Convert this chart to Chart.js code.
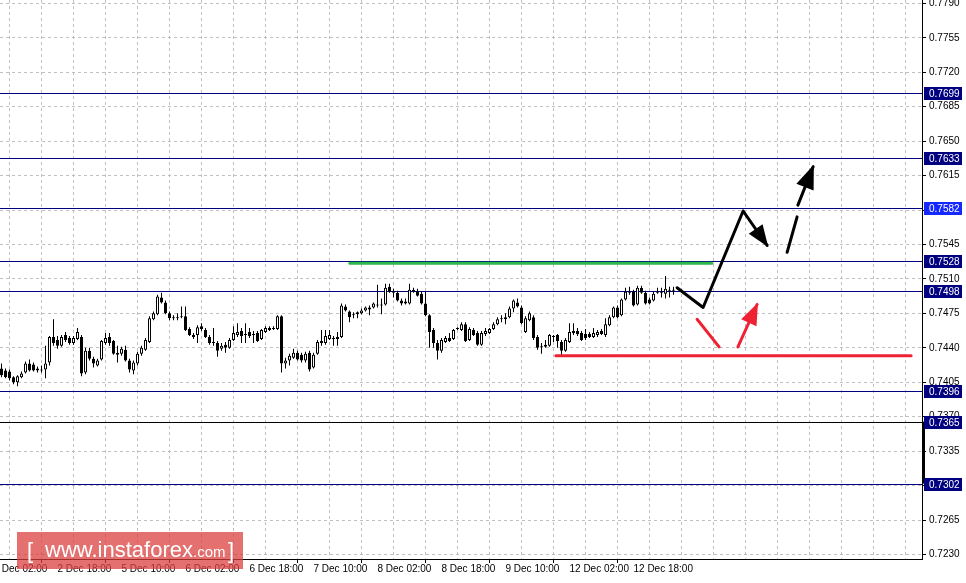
<!DOCTYPE html>
<html>
<head>
<meta charset="utf-8">
<script src="https://cdn.jsdelivr.net/npm/chart.js@4.4.0/dist/chart.umd.min.js"></script>
<style>
  html, body { margin: 0; padding: 0; background: #fff; overflow: hidden; }
</style>
</head>
<body>
<canvas id="chart" width="966" height="583"></canvas>
<script>
// H1 candles, index 0 = first bar on the left
const tickIdx = [-2, 14, 30, 46, 62, 78, 94, 110, 126, 142, 158];
const tickLabels = ['2 Dec 02:00', '2 Dec 18:00', '5 Dec 10:00', '6 Dec 02:00', '6 Dec 18:00', '7 Dec 10:00',
  '8 Dec 02:00', '8 Dec 18:00', '9 Dec 10:00', '12 Dec 02:00', '12 Dec 18:00'];
const priceTicks = [0.7230, 0.7265, 0.7300, 0.7335, 0.7370, 0.7405, 0.7440, 0.7475, 0.7510, 0.7545,
  0.7580, 0.7615, 0.7650, 0.7685, 0.7720, 0.7755, 0.7790];

const opens = [
  0.7419, 0.7417, 0.7416, 0.7410, 0.7405, 0.7410, 0.7415, 0.7424, 0.7423, 0.7419,
  0.7417, 0.7418, 0.7425, 0.7451, 0.7448, 0.7442, 0.7453, 0.7450, 0.7445, 0.7449,
  0.7451, 0.7415, 0.7437, 0.7429, 0.7422, 0.7428, 0.7445, 0.7451, 0.7447, 0.7435,
  0.7434, 0.7438, 0.7427, 0.7417, 0.7424, 0.7434, 0.7438, 0.7446, 0.7469, 0.7474,
  0.7491, 0.7486, 0.7475, 0.7471, 0.7470, 0.7471, 0.7472, 0.7459, 0.7453, 0.7453,
  0.7462, 0.7458, 0.7451, 0.7446, 0.7445, 0.7439, 0.7443, 0.7440, 0.7448, 0.7453,
  0.7457, 0.7454, 0.7456, 0.7453, 0.7455, 0.7449, 0.7456, 0.7458, 0.7459, 0.7459,
  0.7472, 0.7424, 0.7427, 0.7430, 0.7435, 0.7433, 0.7427, 0.7435, 0.7420, 0.7434,
  0.7447, 0.7445, 0.7449, 0.7450, 0.7451, 0.7451, 0.7482, 0.7477, 0.7474, 0.7474,
  0.7475, 0.7478, 0.7479, 0.7481, 0.7484, 0.7483, 0.7484, 0.7502, 0.7498, 0.7496,
  0.7488, 0.7487, 0.7485, 0.7497, 0.7498, 0.7495, 0.7485, 0.7473, 0.7458, 0.7445,
  0.7437, 0.7446, 0.7450, 0.7449, 0.7459, 0.7458, 0.7464, 0.7448, 0.7458, 0.7455,
  0.7443, 0.7454, 0.7455, 0.7459, 0.7464, 0.7469, 0.7469, 0.7471, 0.7480, 0.7486,
  0.7481, 0.7456, 0.7468, 0.7471, 0.7451, 0.7441, 0.7443, 0.7442, 0.7452, 0.7453,
  0.7446, 0.7437, 0.7446, 0.7455, 0.7457, 0.7455, 0.7454, 0.7454, 0.7451, 0.7453,
  0.7457, 0.7453, 0.7463, 0.7471, 0.7481, 0.7473, 0.7489, 0.7496, 0.7497, 0.7484,
  0.7501, 0.7496, 0.7489, 0.7488, 0.7496, 0.7497, 0.7495, 0.7498, 0.7499
];
const highs = [
  0.7424, 0.7419, 0.7418, 0.7411, 0.7412, 0.7416, 0.7426, 0.7428, 0.7425, 0.7421,
  0.7422, 0.7442, 0.7452, 0.7469, 0.7452, 0.7453, 0.7456, 0.7452, 0.7452, 0.7460,
  0.7453, 0.7440, 0.7440, 0.7431, 0.7429, 0.7448, 0.7455, 0.7455, 0.7448, 0.7442,
  0.7441, 0.7442, 0.7429, 0.7427, 0.7436, 0.7442, 0.7450, 0.7472, 0.7477, 0.7494,
  0.7496, 0.7488, 0.7477, 0.7473, 0.7475, 0.7482, 0.7482, 0.7461, 0.7455, 0.7463,
  0.7465, 0.7460, 0.7453, 0.7460, 0.7447, 0.7445, 0.7446, 0.7450, 0.7462, 0.7465,
  0.7460, 0.7465, 0.7460, 0.7457, 0.7457, 0.7459, 0.7462, 0.7462, 0.7462, 0.7473,
  0.7473, 0.7430, 0.7434, 0.7439, 0.7437, 0.7435, 0.7436, 0.7437, 0.7435, 0.7448,
  0.7458, 0.7458, 0.7458, 0.7452, 0.7456, 0.7485, 0.7484, 0.7478, 0.7476, 0.7477,
  0.7480, 0.7482, 0.7483, 0.7486, 0.7504, 0.7490, 0.7505, 0.7505, 0.7500, 0.7498,
  0.7490, 0.7490, 0.7505, 0.7501, 0.7500, 0.7497, 0.7497, 0.7474, 0.7460, 0.7448,
  0.7450, 0.7452, 0.7455, 0.7459, 0.7461, 0.7466, 0.7466, 0.7461, 0.7460, 0.7457,
  0.7457, 0.7460, 0.7460, 0.7466, 0.7471, 0.7473, 0.7475, 0.7482, 0.7489, 0.7490,
  0.7483, 0.7472, 0.7477, 0.7473, 0.7453, 0.7445, 0.7448, 0.7454, 0.7453, 0.7454,
  0.7448, 0.7450, 0.7465, 0.7465, 0.7460, 0.7457, 0.7459, 0.7456, 0.7460, 0.7458,
  0.7459, 0.7470, 0.7473, 0.7482, 0.7483, 0.7490, 0.7501, 0.7502, 0.7499, 0.7503,
  0.7503, 0.7498, 0.7491, 0.7497, 0.7501, 0.7501, 0.7513, 0.7502, 0.7502
];
const lows = [
  0.7410, 0.7409, 0.7407, 0.7403, 0.7401, 0.7409, 0.7414, 0.7416, 0.7416, 0.7415,
  0.7415, 0.7409, 0.7422, 0.7442, 0.7439, 0.7441, 0.7446, 0.7443, 0.7443, 0.7448,
  0.7411, 0.7413, 0.7427, 0.7420, 0.7421, 0.7427, 0.7443, 0.7442, 0.7433, 0.7425,
  0.7432, 0.7426, 0.7415, 0.7413, 0.7422, 0.7432, 0.7437, 0.7445, 0.7468, 0.7473,
  0.7485, 0.7474, 0.7468, 0.7468, 0.7468, 0.7470, 0.7457, 0.7452, 0.7449, 0.7445,
  0.7457, 0.7450, 0.7443, 0.7442, 0.7431, 0.7437, 0.7435, 0.7439, 0.7447, 0.7451,
  0.7445, 0.7445, 0.7450, 0.7445, 0.7446, 0.7448, 0.7455, 0.7457, 0.7458, 0.7458,
  0.7415, 0.7419, 0.7422, 0.7429, 0.7427, 0.7425, 0.7425, 0.7416, 0.7419, 0.7433,
  0.7442, 0.7443, 0.7448, 0.7442, 0.7442, 0.7450, 0.7477, 0.7466, 0.7470, 0.7470,
  0.7474, 0.7477, 0.7473, 0.7480, 0.7481, 0.7474, 0.7483, 0.7496, 0.7491, 0.7487,
  0.7483, 0.7484, 0.7484, 0.7496, 0.7492, 0.7484, 0.7472, 0.7440, 0.7440, 0.7428,
  0.7435, 0.7445, 0.7446, 0.7448, 0.7458, 0.7457, 0.7446, 0.7447, 0.7452, 0.7442,
  0.7442, 0.7452, 0.7454, 0.7458, 0.7463, 0.7466, 0.7464, 0.7470, 0.7476, 0.7481,
  0.7464, 0.7455, 0.7467, 0.7448, 0.7438, 0.7434, 0.7440, 0.7441, 0.7446, 0.7440,
  0.7431, 0.7436, 0.7445, 0.7453, 0.7452, 0.7447, 0.7448, 0.7450, 0.7450, 0.7451,
  0.7453, 0.7451, 0.7462, 0.7470, 0.7470, 0.7472, 0.7488, 0.7494, 0.7482, 0.7483,
  0.7495, 0.7484, 0.7484, 0.7487, 0.7495, 0.7491, 0.7490, 0.7491, 0.7494
];
const closes = [
  0.7412, 0.7410, 0.7409, 0.7405, 0.7411, 0.7414, 0.7424, 0.7417, 0.7417, 0.7417,
  0.7418, 0.7424, 0.7451, 0.7445, 0.7442, 0.7451, 0.7448, 0.7445, 0.7450, 0.7456,
  0.7414, 0.7437, 0.7429, 0.7424, 0.7427, 0.7447, 0.7450, 0.7445, 0.7434, 0.7433,
  0.7439, 0.7427, 0.7418, 0.7425, 0.7434, 0.7440, 0.7448, 0.7470, 0.7475, 0.7492,
  0.7486, 0.7475, 0.7470, 0.7470, 0.7471, 0.7472, 0.7458, 0.7453, 0.7451, 0.7461,
  0.7459, 0.7451, 0.7445, 0.7445, 0.7437, 0.7442, 0.7440, 0.7448, 0.7455, 0.7456,
  0.7452, 0.7453, 0.7452, 0.7454, 0.7447, 0.7458, 0.7460, 0.7460, 0.7460, 0.7472,
  0.7424, 0.7427, 0.7432, 0.7435, 0.7428, 0.7427, 0.7434, 0.7418, 0.7433, 0.7446,
  0.7445, 0.7452, 0.7453, 0.7449, 0.7449, 0.7483, 0.7478, 0.7471, 0.7473, 0.7476,
  0.7478, 0.7481, 0.7481, 0.7485, 0.7483, 0.7484, 0.7501, 0.7497, 0.7496, 0.7488,
  0.7485, 0.7485, 0.7499, 0.7499, 0.7493, 0.7485, 0.7473, 0.7456, 0.7445, 0.7437,
  0.7448, 0.7450, 0.7447, 0.7458, 0.7460, 0.7464, 0.7447, 0.7459, 0.7453, 0.7443,
  0.7455, 0.7457, 0.7459, 0.7464, 0.7469, 0.7470, 0.7471, 0.7480, 0.7488, 0.7482,
  0.7465, 0.7470, 0.7475, 0.7450, 0.7440, 0.7442, 0.7441, 0.7453, 0.7451, 0.7447,
  0.7437, 0.7448, 0.7456, 0.7457, 0.7454, 0.7448, 0.7450, 0.7451, 0.7455, 0.7456,
  0.7454, 0.7464, 0.7471, 0.7481, 0.7471, 0.7489, 0.7497, 0.7497, 0.7483, 0.7501,
  0.7496, 0.7485, 0.7485, 0.7495, 0.7497, 0.7496, 0.7500, 0.7499, 0.7498
];

// horizontal levels with price boxes on the right
const levels = [0.7699, 0.7633, 0.7582, 0.7528, 0.7498, 0.7396, 0.7365, 0.7302];
const levelLineColors = ['#000080', '#000080', '#000080', '#000080', '#000080', '#000080', '#000000', '#000080'];
const levelBoxColors = ['#000080', '#000080', '#1428ff', '#000080', '#000080', '#000080', '#000080', '#000080'];

// drawn support / resistance
const greenX = [87.1, 177.6], greenY = [0.7526, 0.7526];
const redX = [138.6, 227.4], redY = [0.7432, 0.7432];

// forecast arrows
const upPathX = [168.9, 175.4, 185.4, 191.4], upPathY = [0.7501, 0.7481, 0.7579, 0.7544];
const dashAX = [196.4, 198.9], dashAY = [0.7537, 0.7573];
const dashBX = [199.1, 202.9], dashBY = [0.7585, 0.7624];
const redAX = [173.9, 179.4], redAY = [0.7469, 0.7441];
const redBX = [184.1, 188.9], redBY = [0.7441, 0.7484];

const pts = (xs, ys) => xs.map((x, i) => ({ x: x, y: ys[i] }));
const labelAt = {};
tickIdx.forEach((v, i) => { labelAt[v] = tickLabels[i]; });

const FONT = "'Liberation Sans', Arial, sans-serif";

const lineDs = (xs, ys, color, head) => ({
  type: 'line', data: pts(xs, ys), borderColor: color, borderWidth: 3,
  pointRadius: 0, tension: 0, order: 0, borderCapStyle: 'round', borderJoinStyle: 'round',
  arrowHead: head || 0
});

const levelsPlugin = {
  id: 'levels',
  beforeDatasetsDraw(chart) {
    const { ctx, chartArea, scales: { y } } = chart;
    ctx.save();
    ctx.lineWidth = 1;
    levels.forEach((v, i) => {
      const py = Math.round(y.getPixelForValue(v)) + 0.5;
      ctx.strokeStyle = levelLineColors[i];
      ctx.beginPath();
      ctx.moveTo(chartArea.left, py);
      ctx.lineTo(chartArea.right, py);
      ctx.stroke();
    });
    ctx.restore();
  },
  afterDatasetsDraw(chart) {
    const { ctx } = chart;
    chart.data.datasets.forEach((ds, i) => {
      if (!ds.arrowHead) return;
      const el = chart.getDatasetMeta(i).data;
      const a = el[el.length - 2], b = el[el.length - 1];
      const ang = Math.atan2(b.y - a.y, b.x - a.x);
      const L = ds.arrowHead, W = ds.arrowHead * 0.42;
      const bx = b.x - L * Math.cos(ang), by = b.y - L * Math.sin(ang);
      ctx.save();
      ctx.fillStyle = ds.borderColor;
      ctx.beginPath();
      ctx.moveTo(b.x + 2 * Math.cos(ang), b.y + 2 * Math.sin(ang));
      ctx.lineTo(bx + W * Math.sin(ang), by - W * Math.cos(ang));
      ctx.lineTo(bx - W * Math.sin(ang), by + W * Math.cos(ang));
      ctx.closePath();
      ctx.fill();
      ctx.restore();
    });
  },
  afterDraw(chart) {
    const { ctx, chartArea, scales: { y } } = chart;
    ctx.save();
    // black marker on the price axis
    ctx.fillStyle = '#000';
    const t = y.getPixelForValue(0.7365), bt = y.getPixelForValue(0.7302);
    ctx.fillRect(chartArea.right, t, 3, bt - t);
    // price boxes
    ctx.font = '10px ' + FONT;
    ctx.textBaseline = 'middle';
    levels.forEach((v, i) => {
      const py = Math.round(y.getPixelForValue(v));
      ctx.fillStyle = levelBoxColors[i];
      ctx.fillRect(chartArea.right + 2, py - 6, 38, 13);
      ctx.fillStyle = '#fff';
      ctx.fillText(v.toFixed(4), chartArea.right + 7, py + 1);
    });
    // watermark
    ctx.fillStyle = 'rgba(220, 62, 62, 0.74)';
    ctx.fillRect(17, 532, 226, 37);
    ctx.fillStyle = '#fff';
    ctx.textBaseline = 'alphabetic';
    ctx.font = '22px ' + FONT;
    ctx.fillText('[', 27, 558);
    ctx.fillText('www.instaforex', 45, 557);
    ctx.font = '15px ' + FONT;
    ctx.fillText('.com', 193, 557);
    ctx.font = '22px ' + FONT;
    ctx.fillText(']', 228, 558);
    ctx.restore();
  }
};

const ctx = document.getElementById('chart').getContext('2d');
const chart = new Chart(ctx, {
  type: 'bar',
  data: {
    datasets: [
      {
        data: closes.map((c, i) => ({ x: i, y: [opens[i], c] })),
        backgroundColor: closes.map((c, i) => (c >= opens[i] ? '#ffffff' : '#000000')),
        borderColor: '#000', borderWidth: 1, borderSkipped: false,
        barThickness: 3, minBarLength: 1, grouped: false, order: 1, inflateAmount: 0
      },
      {
        data: lows.map((l, i) => ({ x: i, y: [l, highs[i]] })),
        backgroundColor: '#000', borderWidth: 0,
        barThickness: 1, grouped: false, order: 2, inflateAmount: 0
      },
      lineDs(greenX, greenY, '#2db84d'),
      lineDs(redX, redY, '#ee2233'),
      lineDs(upPathX, upPathY, '#000', 20),
      lineDs(dashAX, dashAY, '#000'),
      lineDs(dashBX, dashBY, '#000', 22),
      lineDs(redAX, redAY, '#ee2233'),
      lineDs(redBX, redBY, '#ee2233', 20)
    ]
  },
  options: {
    responsive: false,
    animation: false,
    layout: { padding: 0 },
    plugins: { legend: { display: false }, tooltip: { enabled: false } },
    scales: {
      x: {
        type: 'linear', min: -0.375, max: 230.125, offset: false,
        afterBuildTicks: (s) => {
          const t = [];
          for (let v = -2; v <= 230; v += 8) t.push({ value: v });
          s.ticks = t;
        },
        afterFit: (s) => { s.height = 24; s.paddingLeft = 0; s.paddingRight = 0; },
        ticks: {
          autoSkip: false, maxRotation: 0, minRotation: 0, align: 'start', padding: 0,
          color: '#000', font: { family: FONT, size: 10 },
          callback: (v) => labelAt[v] || ''
        },
        grid: {
          color: '#c0c0c0', tickLength: 4, tickBorderDash: [],
          tickColor: (c) => (c.tick && labelAt[c.tick.value] ? '#000' : 'rgba(0,0,0,0)')
        },
        border: { display: true, color: '#000', width: 1, dash: [3, 3] }
      },
      y: {
        position: 'right', min: 0.72254, max: 0.77934,
        afterBuildTicks: (s) => { s.ticks = priceTicks.map((v) => ({ value: v })); },
        afterFit: (s) => { s.width = 44; s.paddingTop = 0; s.paddingBottom = 0; },
        ticks: {
          padding: 3, color: '#000', font: { family: FONT, size: 10 },
          callback: (v) => v.toFixed(4)
        },
        grid: { color: '#c0c0c0', tickLength: 4, tickColor: '#000', tickBorderDash: [] },
        border: { display: true, color: '#000', width: 1, dash: [3, 3] }
      }
    }
  },
  plugins: [levelsPlugin]
});
</script>
</body>
</html>
